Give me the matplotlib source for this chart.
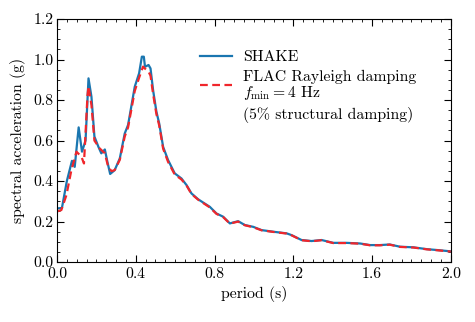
import numpy as np
import matplotlib
matplotlib.use('Agg')
import matplotlib.pyplot as plt
from matplotlib.ticker import MultipleLocator
from matplotlib.lines import Line2D

plt.rcParams['font.family'] = ['cmr10', 'DejaVu Serif']
plt.rcParams['mathtext.fontset'] = 'cm'
plt.rcParams['axes.formatter.use_mathtext'] = True

# SHAKE spectral acceleration (period s, Sa g)
shake_t = [0.0, 0.025, 0.05, 0.076, 0.09, 0.11, 0.127, 0.145, 0.16, 0.175, 0.19,
           0.21, 0.225, 0.243, 0.256, 0.27, 0.293, 0.319, 0.344, 0.361, 0.395,
           0.417, 0.431, 0.441, 0.447, 0.465, 0.475, 0.488, 0.505, 0.519, 0.539,
           0.564, 0.598, 0.632, 0.658, 0.683, 0.717, 0.776, 0.81, 0.844, 0.878,
           0.92, 0.954, 0.997, 1.039, 1.098, 1.166, 1.192, 1.242, 1.293, 1.344,
           1.403, 1.471, 1.539, 1.59, 1.64, 1.69, 1.742, 1.81, 1.878, 1.937, 2.0]
shake_sa = [0.265, 0.267, 0.40, 0.50, 0.47, 0.665, 0.545, 0.60, 0.907, 0.816, 0.62,
            0.57, 0.537, 0.556, 0.495, 0.435, 0.454, 0.512, 0.635, 0.677, 0.866,
            0.932, 1.014, 1.014, 0.964, 0.973, 0.956, 0.849, 0.742, 0.685, 0.569,
            0.504, 0.438, 0.413, 0.38, 0.339, 0.31, 0.273, 0.24, 0.224, 0.191,
            0.202, 0.183, 0.174, 0.158, 0.15, 0.142, 0.133, 0.109, 0.104, 0.109,
            0.095, 0.095, 0.092, 0.084, 0.084, 0.087, 0.076, 0.073, 0.064, 0.059, 0.053]

# FLAC Rayleigh damping
flac_t = [0.0, 0.022, 0.048, 0.073, 0.099, 0.124, 0.137, 0.155, 0.16, 0.175, 0.19,
          0.217, 0.243, 0.26, 0.277, 0.293, 0.319, 0.344, 0.361, 0.395, 0.417,
          0.437, 0.447, 0.465, 0.475, 0.488, 0.505, 0.519, 0.539, 0.564, 0.598,
          0.632, 0.658, 0.683, 0.717, 0.776, 0.81, 0.844, 0.878, 0.92, 0.954,
          0.997, 1.039, 1.098, 1.166, 1.192, 1.242, 1.293, 1.344, 1.403, 1.471,
          1.539, 1.59, 1.64, 1.69, 1.742, 1.81, 1.878, 1.937, 2.0]
flac_sa = [0.25, 0.257, 0.331, 0.454, 0.545, 0.52, 0.487, 0.825, 0.868, 0.775, 0.60,
           0.561, 0.537, 0.47, 0.449, 0.454, 0.505, 0.62, 0.665, 0.845, 0.91,
           0.965, 0.955, 0.94, 0.92, 0.83, 0.73, 0.675, 0.56, 0.495, 0.432,
           0.408, 0.378, 0.336, 0.308, 0.27, 0.238, 0.222, 0.19, 0.2, 0.182,
           0.172, 0.157, 0.149, 0.141, 0.132, 0.108, 0.103, 0.108, 0.094, 0.094,
           0.091, 0.083, 0.083, 0.086, 0.075, 0.072, 0.063, 0.058, 0.052]

FS = 11.3

fig = plt.figure(figsize=(4.75, 3.22), dpi=100)
ax = fig.add_axes([0.12, 0.186, 0.829, 0.755])

ax.plot(shake_t, shake_sa, color='#1a76b0', lw=1.6, label='SHAKE')
ax.plot(flac_t, flac_sa, color='#f0262b', lw=1.6, ls=(0, (3.5, 2)),
        label='FLAC Rayleigh damping\n$f_{\\min} = 4$ Hz')

handles, labels = ax.get_legend_handles_labels()
handles.append(Line2D([], [], color='none'))
labels.append('(5% structural damping)')
leg = ax.legend(handles, labels, loc='upper left', bbox_to_anchor=(0.363, 0.872),
                frameon=False, fontsize=FS, handlelength=2.05, handletextpad=0.7,
                labelspacing=0.33, borderaxespad=0, borderpad=0)
for t in leg.get_texts():
    t.set_linespacing(1.0)

ax.set_xlim(0, 2.0)
ax.set_ylim(0, 1.2)
ax.xaxis.set_major_locator(MultipleLocator(0.4))
ax.xaxis.set_minor_locator(MultipleLocator(0.05))
ax.yaxis.set_major_locator(MultipleLocator(0.2))
ax.yaxis.set_minor_locator(MultipleLocator(0.05))
ax.xaxis.set_major_formatter(plt.FuncFormatter(lambda v, p: f'{v:.1f}'))
ax.yaxis.set_major_formatter(plt.FuncFormatter(lambda v, p: f'{v:.1f}'))
ax.tick_params(which='both', direction='in', top=True, right=True, labelsize=FS)
ax.tick_params(which='major', length=5, width=0.8)
ax.tick_params(axis='x', which='major', pad=3.5)
ax.tick_params(axis='y', which='major', pad=2.5)
ax.tick_params(which='minor', length=2.5, width=0.6)

ax.set_xlabel('period (s)', fontsize=FS, labelpad=4)
ax.set_ylabel('spectral acceleration (g)', fontsize=FS, labelpad=5)

fig.savefig('out.png', dpi=100)
